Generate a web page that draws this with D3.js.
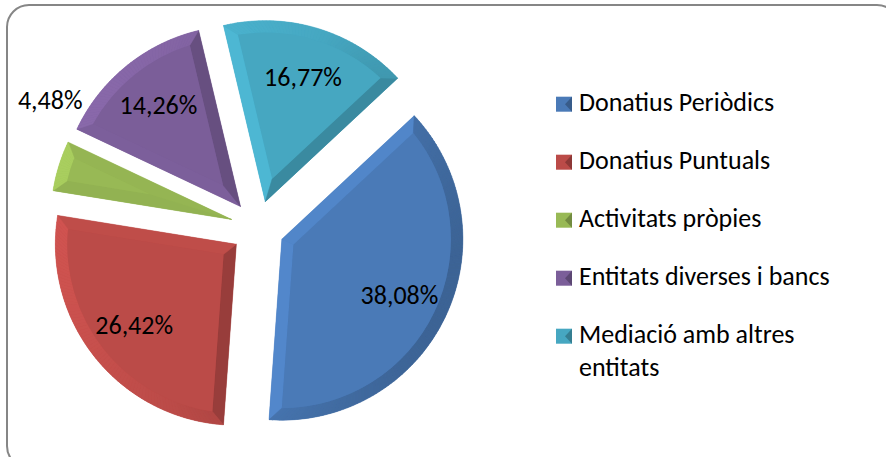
<!DOCTYPE html>
<html>
<head>
<meta charset="utf-8">
<script src="https://cdn.jsdelivr.net/npm/d3@7"></script>
<style>
  body { margin: 0; background: #fff; }
  text { font-family: Carlito, Calibri, Lato, sans-serif; fill: #000; }
</style>
</head>
<body>
<div id="chart"></div>
<script>
// Data
const categories = ["Donatius Periòdics", "Donatius Puntuals", "Activitats pròpies", "Entitats diverses i bancs", "Mediació amb altres entitats"];
const values = [38.08, 26.42, 4.48, 14.26, 16.77];
const colors = ["#4a7ab7", "#bb4b48", "#98b955", "#7b5e99", "#46a7c1"];

const width = 886, height = 457;
const cx = 257.5, cy = 227.5, radius = 181, explode = 27, bevel = 12;
const startAngle = 47 * Math.PI / 180;

const data = categories.map((c, i) => ({ name: c, value: values[i], color: colors[i] }));

const svg = d3.select("#chart")
  .append("svg")
  .attr("width", width)
  .attr("height", height)
  .style("display", "block");

// chart frame
svg.append("rect")
  .attr("x", 7).attr("y", 5)
  .attr("width", 892).attr("height", 463)
  .attr("rx", 22)
  .attr("fill", "#fff")
  .attr("stroke", "#868686")
  .attr("stroke-width", 2);

const pie = d3.pie()
  .sort(null)
  .value(d => d.value)
  .startAngle(startAngle)
  .endAngle(startAngle + 2 * Math.PI);

const arcs = pie(data);

// point at radius r, angle a (clockwise from 12 o'clock)
function pt(r, a) { return [r * Math.sin(a), -r * Math.cos(a)]; }

// light comes from the left, a little from above
const light = [-0.94, -0.34];
function shade(base, a) {
  const b = Math.sin(a) * light[0] - Math.cos(a) * light[1];
  return b >= 0 ? d3.color(base).brighter(0.3 * b).formatHex()
                : d3.color(base).darker(0.6 * -b).formatHex();
}

const slices = svg.append("g")
  .selectAll("g")
  .data(arcs)
  .enter()
  .append("g")
  .attr("transform", d => {
    const m = (d.startAngle + d.endAngle) / 2;
    const o = pt(explode, m);
    return "translate(" + (cx + o[0]) + "," + (cy + o[1]) + ")";
  });

slices.each(function(d) {
  const g = d3.select(this);
  const a0 = d.startAngle, a1 = d.endAngle, mid = (a0 + a1) / 2;
  const base = d.data.color;
  const h = (a1 - a0) / 2;
  const ri = radius - bevel;
  const V = pt(bevel / Math.sin(h), mid);
  const dl = Math.asin(bevel / ri);
  const O0 = pt(radius, a0), O1 = pt(radius, a1);
  const I0 = pt(ri, a0 + dl), I1 = pt(ri, a1 - dl);
  const line = pts => "M" + pts.map(p => p[0] + "," + p[1]).join("L") + "Z";

  // base shape
  g.append("path")
    .attr("d", d3.arc().innerRadius(0).outerRadius(radius)(d))
    .attr("fill", base);

  // straight edge facets
  const e0 = shade(base, a0 - Math.PI / 2);
  g.append("path").attr("d", line([[0, 0], O0, I0, V]))
    .attr("fill", e0).attr("stroke", e0).attr("stroke-width", 0.5);
  const e1 = shade(base, a1 + Math.PI / 2);
  g.append("path").attr("d", line([[0, 0], V, I1, O1]))
    .attr("fill", e1).attr("stroke", e1).attr("stroke-width", 0.5);

  // curved rim facets
  const n = Math.ceil((a1 - a0) / 0.02);
  for (let k = 0; k < n; k++) {
    const t0 = k / n, t1 = (k + 1) / n;
    const o0 = a0 + (a1 - a0) * t0, o1 = a0 + (a1 - a0) * t1;
    const i0 = a0 + dl + (a1 - a0 - 2 * dl) * t0, i1 = a0 + dl + (a1 - a0 - 2 * dl) * t1;
    const c = shade(base, (o0 + o1) / 2);
    g.append("path")
      .attr("d", line([pt(radius, o0), pt(radius, o1), pt(ri, i1), pt(ri, i0)]))
      .attr("fill", c).attr("stroke", c).attr("stroke-width", 0.5);
  }

  // flat top face
  const p = d3.path();
  p.moveTo(V[0], V[1]);
  p.lineTo(I0[0], I0[1]);
  p.arc(0, 0, ri, a0 + dl - Math.PI / 2, a1 - dl - Math.PI / 2, false);
  p.closePath();
  g.append("path").attr("d", p.toString()).attr("fill", base);
});

// data labels
const fmt = v => d3.format(".2f")(v).replace(".", ",") + "%";
const labelArc = d3.arc().innerRadius(radius * 0.72).outerRadius(radius * 0.72);
svg.append("g")
  .selectAll("text")
  .data(arcs)
  .enter()
  .append("text")
  .attr("transform", d => {
    const m = (d.startAngle + d.endAngle) / 2;
    const o = pt(explode, m);
    let c;
    if (d.data.value < 5) {
      c = pt(radius * 1.2, d.endAngle + 0.14);
    } else {
      c = labelArc.centroid(d);
    }
    return "translate(" + (cx + o[0] + c[0]) + "," + (cy + o[1] + c[1]) + ")";
  })
  .attr("text-anchor", "middle")
  .attr("dy", "0.35em")
  .style("font-size", "26px")
  .text(d => fmt(d.data.value));

// legend
const legend = svg.append("g").attr("transform", "translate(556,0)");
const rowY = d3.scaleLinear().domain([0, 1]).range([110.7, 168.7]);
const maxW = 290;
categories.forEach((c, i) => {
  const y = rowY(i);
  const col = colors[i];
  legend.append("rect")
    .attr("x", 0).attr("y", y - 14)
    .attr("width", 16).attr("height", 15)
    .attr("fill", col);
  legend.append("path")
    .attr("d", "M16," + (y - 14) + "L9," + (y - 6.5) + "L16," + (y + 1) + "Z")
    .attr("fill", d3.color(col).darker(0.8));
  const t = legend.append("text")
    .attr("x", 23).attr("y", y)
    .style("font-size", "26px");
  // wrap long names
  const words = c.split(" ");
  let ts = t.append("tspan").attr("x", 23).attr("y", y);
  let lineWords = [];
  words.forEach(w => {
    lineWords.push(w);
    ts.text(lineWords.join(" "));
    if (ts.node().getComputedTextLength() > maxW && lineWords.length > 1) {
      lineWords.pop();
      ts.text(lineWords.join(" "));
      lineWords = [w];
      ts = t.append("tspan").attr("x", 23).attr("dy", 33).text(w);
    }
  });
});
</script>
</body>
</html>
